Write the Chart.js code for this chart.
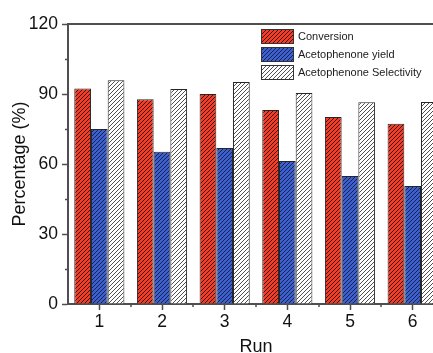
<!DOCTYPE html>
<html lang="en">
<head>
  <meta charset="UTF-8">
  <title>Run stability</title>
  <script src="https://cdn.jsdelivr.net/npm/chart.js"></script>
  <style>
    html, body { margin: 0; padding: 0; background: #fff; overflow: hidden; }
    #wrap { width: 433px; height: 353px; overflow: hidden; }
  </style>
</head>
<body>
  <div id="wrap"><canvas id="runChart" width="460" height="362"></canvas></div>
  <script>
  // values
  const runs = ['1', '2', '3', '4', '5', '6'];
  const conversion = [92.4, 87.7, 90.0, 83.1, 80.1, 77.3];
  const acetoYield = [75.0, 65.3, 66.9, 61.3, 54.9, 50.6];
  const acetoSelectivity = [95.9, 92.1, 95.1, 90.4, 86.5, 86.6];
  const seriesNames = ['Conversion', 'Acetophenone yield', 'Acetophenone Selectivity'];
  const yMajor = [0, 30, 60, 90, 120];

  const FONT = 'Liberation Sans, Arial, sans-serif';
  const AXIS = '#4f4f4f';

  // diagonal "/" hatch
  function hatch(bg, line) {
    const c = document.createElement('canvas');
    c.width = 4; c.height = 4;
    const g = c.getContext('2d');
    g.fillStyle = bg;
    g.fillRect(0, 0, 4, 4);
    g.strokeStyle = line;
    g.lineWidth = 1;
    g.beginPath();
    g.moveTo(0, 4); g.lineTo(4, 0);
    g.moveTo(-1, 1); g.lineTo(1, -1);
    g.moveTo(3, 5); g.lineTo(5, 3);
    g.stroke();
    return g.createPattern(c, 'repeat');
  }

  const ctx = document.getElementById('runChart').getContext('2d');
  const fills = [
    hatch('#f43c26', '#3a1008'),
    hatch('#3c60d0', '#18224c'),
    hatch('#ffffff', '#505050')
  ];

  // top frame line, minor ticks and the in-plot legend
  const extras = {
    id: 'extras',
    afterDraw(chart) {
      const c = chart.ctx;
      const a = chart.chartArea;
      const xs = chart.scales.x, ys = chart.scales.y;
      c.save();
      c.strokeStyle = AXIS;
      c.lineWidth = 2;
      c.beginPath();
      c.moveTo(a.left - 1, a.top);
      c.lineTo(a.right, a.top);
      c.stroke();

      c.lineWidth = 1.5;
      c.beginPath();
      for (let v = 15; v < 120; v += 30) {
        const y = Math.round(ys.getPixelForValue(v)) + 0.5;
        c.moveTo(a.left, y); c.lineTo(a.left - 3, y);
      }
      const half = (xs.getPixelForValue(1) - xs.getPixelForValue(0)) / 2;
      for (let i = 0; i < runs.length; i++) {
        const x = Math.round(xs.getPixelForValue(i) + half);
        c.moveTo(x, a.bottom); c.lineTo(x, a.bottom + 3);
      }
      c.stroke();

      c.font = '11px ' + FONT;
      c.textBaseline = 'middle';
      c.textAlign = 'left';
      seriesNames.forEach((name, i) => {
        const bx = a.left + 193, by = a.top + 5 + i * 18;
        c.fillStyle = fills[i];
        c.fillRect(bx, by, 33, 15);
        c.strokeStyle = '#333';
        c.lineWidth = 1;
        c.strokeRect(bx + 0.5, by + 0.5, 32, 14);
        c.fillStyle = '#1a1a1a';
        c.fillText(name, bx + 37, by + 8);
      });
      c.restore();
    }
  };

  new Chart(ctx, {
    type: 'bar',
    data: {
      labels: runs,
      datasets: [conversion, acetoYield, acetoSelectivity].map((d, i) => ({
        label: seriesNames[i],
        data: d,
        backgroundColor: fills[i],
        borderColor: '#262626',
        borderWidth: 1,
        barPercentage: 1,
        categoryPercentage: 0.8
      }))
    },
    options: {
      responsive: false,
      animation: false,
      devicePixelRatio: 1,
      layout: { padding: { top: 24, right: 16, bottom: 0, left: 0 } },
      plugins: { legend: { display: false }, tooltip: { enabled: false } },
      scales: {
        x: {
          afterFit: s => { s.height = 58; },
          border: { display: true, color: AXIS, width: 2 },
          grid: { display: true, drawOnChartArea: false, offset: false, tickLength: 6, tickColor: AXIS, tickWidth: 1.5 },
          ticks: { color: '#111', padding: 2, font: { family: FONT, size: 17.5 } },
          title: { display: true, text: 'Run', color: '#111', padding: { top: 0, bottom: 4 }, font: { family: FONT, size: 18 } }
        },
        y: {
          min: 0,
          max: 120,
          afterFit: s => { s.width = 68; },
          afterBuildTicks: s => { s.ticks = yMajor.map(v => ({ value: v })); },
          border: { display: true, color: AXIS, width: 2 },
          grid: { display: true, drawOnChartArea: false, tickLength: 6, tickColor: AXIS, tickWidth: 1.5 },
          ticks: { color: '#111', padding: 4, font: { family: FONT, size: 17.5 } },
          title: { display: true, text: 'Percentage (%)', color: '#111', padding: { top: 9, bottom: 0 }, font: { family: FONT, size: 18 } }
        }
      }
    },
    plugins: [extras]
  });
  </script>
</body>
</html>
